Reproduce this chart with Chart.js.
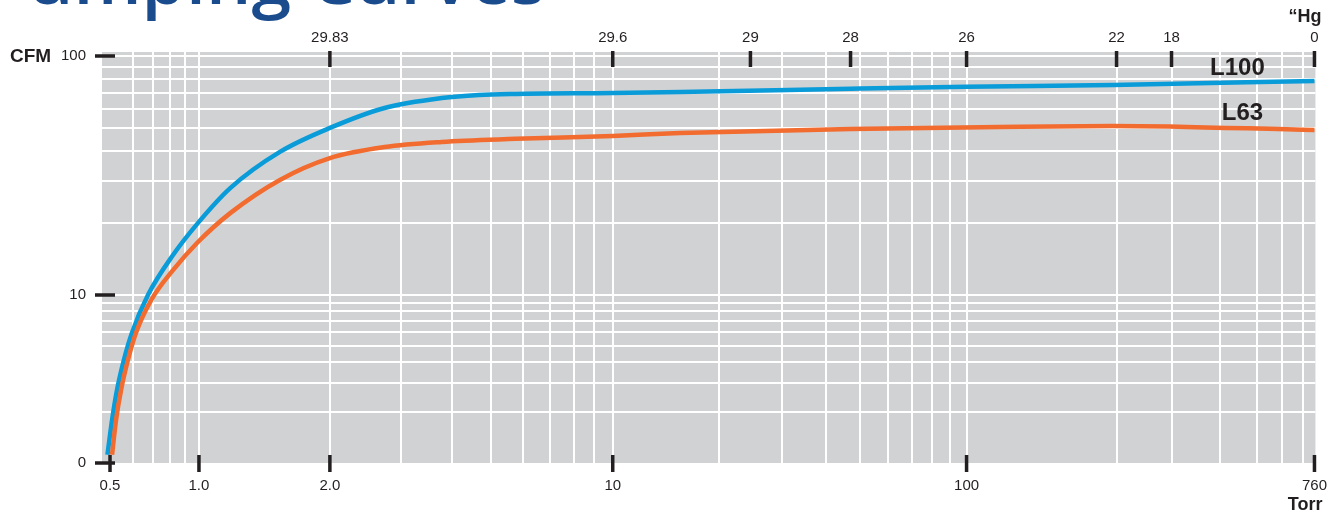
<!DOCTYPE html>
<html>
<head>
<meta charset="utf-8">
<script src="https://cdn.jsdelivr.net/npm/chart.js@4.4.1/dist/chart.umd.min.js"></script>
<style>
  html, body { margin: 0; padding: 0; background: #fff; overflow: hidden; }
  #wrap { position: relative; width: 1341px; height: 516px; overflow: hidden; }
  #titulo { position: absolute; left: -16px; top: -59px; font: 600 71.5px "Open Sans", sans-serif; line-height: 71.5px; color: #1a4b8c; white-space: nowrap; }
  canvas { position: absolute; left: 0; top: 0; }
</style>
</head>
<body>
<div id="wrap">
  <div id="titulo">Pumping Curves</div>
  <canvas id="chartCurvas" width="1341" height="516"></canvas>
</div>
<script>
// DADOS - pressao em Torr, vazao em CFM
const torrL100 = [0.49, 0.508, 0.528, 0.557, 0.593, 0.672, 0.817, 0.985, 1.18, 1.535, 2.0, 2.73, 3.78, 4.67, 5.76, 10, 15.5, 47, 100, 197, 760];
const cfmL100  = [1.12, 1.80, 2.72, 4.10, 5.94, 10, 14.7, 19.8, 28.0, 39.7, 50.0, 60.6, 66.7, 68.7, 69.4, 70.0, 70.7, 72.9, 74.3, 75.7, 78.6];

const torrL63 = [0.508, 0.524, 0.545, 0.575, 0.612, 0.693, 0.817, 0.985, 1.18, 1.535, 2.0, 2.73, 3.78, 5.76, 10, 15.5, 47, 116, 197, 760];
const cfmL63  = [1.12, 1.80, 2.72, 4.10, 5.94, 9.47, 12.7, 16.5, 22.0, 30.3, 37.4, 41.6, 43.7, 45.0, 46.3, 47.6, 49.5, 50.5, 51.0, 49.0];

// eixo inferior (Torr)
const torrTicks = [0.5, 1, 2, 10, 100, 760];
const torrTickLabels = ['0.5', '1.0', '2.0', '10', '100', '760'];
const torrGrid = [0.6, 0.7, 0.8, 0.9, 1, 2, 3, 4, 5, 6, 7, 8, 9, 10, 20, 30, 40, 50, 60, 70, 80, 90, 100, 200, 300, 400, 500, 600, 700];

// eixo superior (polegadas de Hg)
const hgTickTorr = [2, 10, 24.5, 47, 100, 200, 300, 760];
const hgTickLabels = ['29.83', '29.6', '29', '28', '26', '22', '18', '0'];

// eixo vertical (CFM)
const cfmTicks = [1, 10, 100];
const cfmTickLabels = ['0', '10', '100'];
const cfmGrid = [2, 3, 4, 5, 6, 7, 8, 9, 20, 30, 40, 50, 60, 70, 80, 90];

const FONTE = '"Liberation Sans", Arial, sans-serif';
const COR_TEXTO = '#231f20';

// ESCALA LOG POR TRECHOS (a figura nao tem decadas iguais)
class KnotScale extends Chart.Scale {
    static id = 'knot';
    static defaults = {};

    determineDataLimits() {
        this.min = this.options.min;
        this.max = this.options.max;
    }

    buildTicks() {
        return this.options.tickValues.map(v => ({ value: v }));
    }

    getLabelForValue(v) {
        return String(v);
    }

    toDecimal(v) {
        const k = this.options.knots;
        let i = 0;
        while (i < k.length - 2 && v > k[i + 1][0]) i++;
        const l0 = Math.log10(k[i][0]), l1 = Math.log10(k[i + 1][0]);
        return k[i][1] + (Math.log10(v) - l0) / (l1 - l0) * (k[i + 1][1] - k[i][1]);
    }

    getPixelForValue(v) {
        if (v === null || v === undefined || v <= 0) return NaN;
        return this.getPixelForDecimal(this.toDecimal(v));
    }

    getValueForPixel(p) {
        const d = this.getDecimalForPixel(p);
        const k = this.options.knots;
        let i = 0;
        while (i < k.length - 2 && d > k[i + 1][1]) i++;
        const l0 = Math.log10(k[i][0]), l1 = Math.log10(k[i + 1][0]);
        return Math.pow(10, l0 + (d - k[i][1]) / (k[i + 1][1] - k[i][1]) * (l1 - l0));
    }
}
Chart.register(KnotScale);

const xKnots = [[0.5, 0.0066], [1, 0.0799], [2, 0.1878], [10, 0.4209], [100, 0.7125], [200, 0.8361], [300, 0.8814], [500, 0.9522], [760, 0.9992]];
const yKnots = [[1, 0], [10, 0.4088], [100, 0.9903]];

const toPoints = (xs, ys) => xs.map((x, i) => ({ x: x, y: ys[i] }));

// fundo cinza da area do grafico
const fundo = {
    id: 'fundo',
    beforeDraw(chart) {
        const { ctx, chartArea: a } = chart;
        ctx.save();
        ctx.fillStyle = '#d1d2d4';
        ctx.fillRect(a.left, a.top, a.right - a.left, a.bottom - a.top);
        ctx.restore();
    }
};

// tracos pretos dos eixos
const marcas = {
    id: 'marcas',
    afterDraw(chart) {
        const { ctx, chartArea: a, scales } = chart;
        ctx.save();
        ctx.strokeStyle = COR_TEXTO;
        ctx.lineWidth = 3.5;
        ctx.beginPath();
        torrTicks.forEach(v => {
            const x = scales.x.getPixelForValue(v);
            ctx.moveTo(x, a.bottom - 8);
            ctx.lineTo(x, a.bottom + 9);
        });
        hgTickTorr.forEach(v => {
            const x = scales.xHg.getPixelForValue(v);
            ctx.moveTo(x, a.top - 1);
            ctx.lineTo(x, a.top + 15);
        });
        cfmTicks.forEach(v => {
            const y = scales.y.getPixelForValue(v);
            ctx.moveTo(a.left - 7, y);
            ctx.lineTo(a.left + 13, y);
        });
        ctx.stroke();
        ctx.restore();
    }
};

// unidades e nomes das curvas
const rotulos = {
    id: 'rotulos',
    afterDraw(chart) {
        const { ctx, chartArea: a, scales } = chart;
        ctx.save();
        ctx.fillStyle = COR_TEXTO;
        ctx.textBaseline = 'middle';
        ctx.textAlign = 'left';
        ctx.font = 'bold 19px ' + FONTE;
        ctx.fillText('CFM', 10, scales.y.getPixelForValue(100) + 1);
        ctx.textAlign = 'right';
        ctx.font = 'bold 18px ' + FONTE;
        ctx.fillText('\u201CHg', a.right + 6, 17);
        ctx.fillText('Torr', a.right + 7, a.bottom + 42);
        ctx.textAlign = 'center';
        ctx.font = 'bold 24px ' + FONTE;
        ctx.fillText('L100', a.right - 78, scales.y.getPixelForValue(cfmL100[cfmL100.length - 1]) - 13);
        ctx.fillText('L63', a.right - 73, scales.y.getPixelForValue(cfmL63[cfmL63.length - 1]) - 17);
        ctx.restore();
    }
};

const tickFont = { family: FONTE, size: 15 };
const branco = (lista) => (c) => lista.includes(c.tick.value) ? '#ffffff' : 'rgba(0,0,0,0)';

new Chart(document.getElementById('chartCurvas'), {
    type: 'line',
    data: {
        datasets: [
            { label: 'L63', data: toPoints(torrL63, cfmL63), borderColor: '#f26b2f', borderWidth: 4.5, pointRadius: 0, cubicInterpolationMode: 'monotone', xAxisID: 'x', yAxisID: 'y' },
            { label: 'L100', data: toPoints(torrL100, cfmL100), borderColor: '#0a9bd9', borderWidth: 4.5, pointRadius: 0, cubicInterpolationMode: 'monotone', xAxisID: 'x', yAxisID: 'y' }
        ]
    },
    options: {
        responsive: false,
        animation: false,
        events: [],
        layout: { padding: { left: 0, right: 25, top: 0, bottom: 0 } },
        plugins: { legend: { display: false }, tooltip: { enabled: false } },
        scales: {
            x: {
                type: 'knot', position: 'bottom', min: 0.47, max: 763, knots: xKnots,
                tickValues: [0.5].concat(torrGrid, [760]),
                ticks: {
                    autoSkip: false, maxRotation: 0, minRotation: 0, padding: 14, color: COR_TEXTO, font: tickFont,
                    callback: (v) => { const i = torrTicks.indexOf(v); return i >= 0 ? torrTickLabels[i] : ''; }
                },
                grid: { color: branco(torrGrid), lineWidth: 2, drawTicks: false },
                border: { display: false },
                afterFit: (s) => { s.height = 53; }
            },
            xHg: {
                type: 'knot', position: 'top', min: 0.47, max: 763, knots: xKnots,
                tickValues: hgTickTorr,
                ticks: {
                    autoSkip: false, maxRotation: 0, minRotation: 0, padding: 5, color: COR_TEXTO, font: tickFont,
                    callback: (v, i) => hgTickLabels[i]
                },
                grid: { drawOnChartArea: false, drawTicks: false },
                border: { display: false },
                afterFit: (s) => { s.height = 52; }
            },
            y: {
                type: 'knot', position: 'left', min: 1, max: 104, knots: yKnots,
                tickValues: cfmTicks.concat(cfmGrid).sort((a, b) => a - b),
                ticks: {
                    autoSkip: false, padding: 16, color: COR_TEXTO, font: tickFont,
                    callback: (v) => { const i = cfmTicks.indexOf(v); return i >= 0 ? cfmTickLabels[i] : ''; }
                },
                grid: { color: branco(cfmGrid.concat([10, 100])), lineWidth: 2, drawTicks: false },
                border: { display: false },
                afterFit: (s) => { s.width = 102; }
            }
        }
    },
    plugins: [fundo, marcas, rotulos]
});
</script>
</body>
</html>
